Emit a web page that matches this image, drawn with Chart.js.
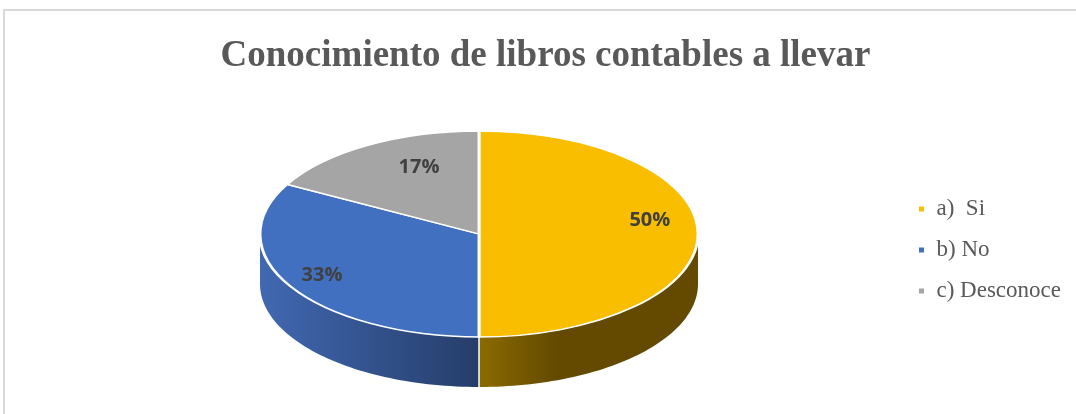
<!DOCTYPE html>
<html>
<head>
<meta charset="utf-8">
<script src="https://cdn.jsdelivr.net/npm/chart.js@4.4.0/dist/chart.umd.min.js"></script>
<style>
  body { margin: 0; background: #fff; }
  #wrap { position: relative; width: 1076px; height: 414px; }
  #frame { position: absolute; left: 3px; top: 9px; right: 0; bottom: 0;
           border-top: 2px solid #d9d9d9; border-left: 2px solid #d9d9d9; }
  canvas { position: absolute; left: 0; top: 0; }
</style>
</head>
<body>
<div id="wrap">
  <div id="frame"></div>
  <canvas id="myChart" width="1076" height="414"></canvas>
</div>
<script>
let labels = ['a)  Si', 'b) No', 'c) Desconoce'];
let values = [50, 33, 17];
let percentLabels = ['50%', '33%', '17%'];
let colors = ['#FABE00', '#4270C1', '#A5A5A5'];
// darker colours for the side of the 3d pie
let sideColors = [['#8C6B00', '#634A00'], ['#4168B2', '#253D69'], ['#6E6E6E', '#5A5A5A']];

// where the top ellipse should end up on the page
const pieX = 479;
const pieY = 234;
const pieRx = 219;
const pieRy = 103;
const depth = 50;

function sidePoint(angle, down) {
    return [pieX + pieRx * Math.cos(angle), pieY + pieRy * Math.sin(angle) + down];
}

function drawSide(ctx, from, to, i) {
    const p1 = sidePoint(from, 0);
    const p2 = sidePoint(to, 0);
    const grad = ctx.createLinearGradient(Math.min(p1[0], p2[0]), 0, Math.max(p1[0], p2[0]), 0);
    if (i === 1) {
        grad.addColorStop(0, sideColors[i][0]);
        grad.addColorStop(1, sideColors[i][1]);
    } else {
        grad.addColorStop(0, sideColors[i][0]);
        grad.addColorStop(0.35, sideColors[i][1]);
        grad.addColorStop(1, sideColors[i][1]);
    }
    ctx.save();
    ctx.beginPath();
    const steps = 60;
    for (let s = 0; s <= steps; s++) {
        const p = sidePoint(from + (to - from) * s / steps, 0);
        if (s === 0) ctx.moveTo(p[0], p[1]); else ctx.lineTo(p[0], p[1]);
    }
    for (let s = steps; s >= 0; s--) {
        const p = sidePoint(from + (to - from) * s / steps, depth);
        ctx.lineTo(p[0], p[1]);
    }
    ctx.closePath();
    ctx.fillStyle = grad;
    ctx.fill();
    ctx.restore();

    // white seam where two slices meet on the side
    if (from > 0.001 && from < Math.PI - 0.001) {
        ctx.save();
        ctx.strokeStyle = '#ffffff';
        ctx.lineWidth = 1.5;
        ctx.beginPath();
        ctx.moveTo(p1[0], p1[1]);
        ctx.lineTo(p1[0], p1[1] + depth);
        ctx.stroke();
        ctx.restore();
    }
}

// draws the pie squashed + a side wall so it looks like the excel 3d pie
const pie3d = {
    id: 'pie3d',
    beforeDatasetsDraw(chart) {
        const ctx = chart.ctx;
        const arcs = chart.getDatasetMeta(0).data;

        // only the front half (angles 0..PI) of the side can be seen
        arcs.forEach((arc, i) => {
            for (let k = -1; k <= 1; k++) {
                const a = arc.startAngle + k * Math.PI * 2;
                const b = arc.endAngle + k * Math.PI * 2;
                const from = Math.max(a, 0);
                const to = Math.min(b, Math.PI);
                if (to > from) drawSide(ctx, from, to, i);
            }
        });

        // squash the round pie into the top ellipse
        const c = arcs[0];
        ctx.save();
        ctx.translate(pieX, pieY);
        ctx.scale(pieRx / c.outerRadius, pieRy / c.outerRadius);
        ctx.translate(-c.x, -c.y);
    },
    afterDatasetsDraw(chart) {
        const ctx = chart.ctx;
        ctx.restore();
        const arcs = chart.getDatasetMeta(0).data;
        ctx.save();
        ctx.font = 'bold 20px "Open Sans", "DejaVu Sans", sans-serif';
        ctx.fillStyle = '#404040';
        ctx.textAlign = 'center';
        ctx.textBaseline = 'middle';
        arcs.forEach((arc, i) => {
            const mid = (arc.startAngle + arc.endAngle) / 2;
            const p = [pieX + 0.78 * pieRx * Math.cos(mid), pieY + 0.78 * pieRy * Math.sin(mid)];
            if (i === 0) p[1] -= 14;
            if (i === 1) p[0] -= 10;
            if (i === 2) { p[0] += 27; p[1] += 2; }
            ctx.fillText(percentLabels[i], p[0], p[1]);
        });
        ctx.restore();
    }
};

const ctx = document.getElementById('myChart');
const pieChart = new Chart(ctx, {
    type: 'pie',
    data: {
        labels: labels,
        datasets: [{
            data: values,
            backgroundColor: colors,
            borderColor: '#ffffff',
            borderWidth: 2
        }]
    },
    options: {
        responsive: false,
        animation: false,
        radius: 150,
        layout: { padding: { top: 26, left: 20, right: 5, bottom: -60 } },
        plugins: {
            title: {
                display: true,
                text: 'Conocimiento de libros contables a llevar',
                color: '#595959',
                font: { family: '"Liberation Serif", "DejaVu Serif", serif', size: 37, weight: 'bold' },
                padding: { top: 8, bottom: 10 }
            },
            legend: {
                position: 'right',
                labels: {
                    usePointStyle: true,
                    pointStyle: 'rect',
                    boxWidth: 7,
                    boxHeight: 7,
                    padding: 18,
                    color: '#595959',
                    font: { family: '"Liberation Serif", "DejaVu Serif", serif', size: 23 }
                }
            },
            tooltip: { enabled: false }
        }
    },
    plugins: [pie3d]
});
</script>
</body>
</html>
